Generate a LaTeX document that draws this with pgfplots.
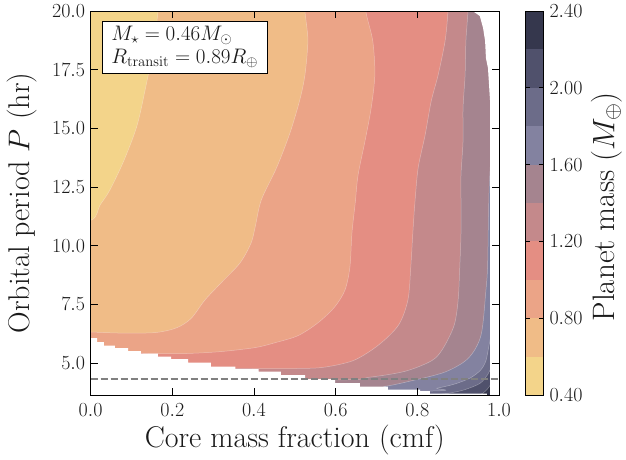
\RequirePackage{fix-cm}
\documentclass[border=0pt]{standalone}
\usepackage{pgfplots}
\pgfplotsset{compat=1.18}
\definecolor{c1}{HTML}{F3D48A}
\definecolor{c2}{HTML}{F0BC87}
\definecolor{c3}{HTML}{EBA487}
\definecolor{c4}{HTML}{E48E83}
\definecolor{c5}{HTML}{C4898B}
\definecolor{c6}{HTML}{A5848F}
\definecolor{c7}{HTML}{8382A0}
\definecolor{c8}{HTML}{6C6C89}
\definecolor{c9}{HTML}{50516C}
\definecolor{c10}{HTML}{35374D}
\definecolor{txt}{HTML}{1A1A1A}
\begin{document}
\begin{tikzpicture}
\useasboundingbox (0,0) rectangle (626pt,460pt);
\begin{axis}[
  at={(90.6pt,65pt)}, anchor=south west,
  scale only axis, width=408.4pt, height=383.9pt,
  xmin=0, xmax=1, ymin=3.64, ymax=20,
  xtick={0,0.2,0.4,0.6,0.8,1.0},
  ytick={5,7.5,10,12.5,15,17.5,20},
  tick label style={font=\fontsize{20}{24}\selectfont, text=txt,
    /pgf/number format/fixed, /pgf/number format/fixed zerofill, /pgf/number format/precision=1},
  xticklabel style={yshift=-5pt},
  yticklabel style={xshift=-2pt},
  label style={font=\fontsize{30}{36}\selectfont, text=txt},
  xlabel={Core mass fraction (cmf)},
  ylabel={Orbital period $P$ (hr)},
  xlabel style={at={(axis description cs:0.5,-0.138)}, anchor=base},
  ylabel style={at={(axis description cs:-0.150,0.5)}, anchor=base},
  tick align=inside, major tick length=7pt,
  tick style={line width=0.9pt, black},
  axis line style={line width=1pt, black},
  minor tick num=0,
  axis on top,
  every axis plot/.append style={draw=white, draw opacity=0.35, line width=0.5pt},
  band/.style={smooth, tension=0.5},
]
% base band 0.40-0.60
\addplot[fill=c1] coordinates {(-0.1,3)(1.1,3)(1.1,21)(-0.1,21)} -- cycle;
% 0.60-0.80
\addplot[band, fill=c2] coordinates {(0.165,21)(0.165,20)(0.153,18.34)(0.136,16.85)(0.114,15.14)(0.082,13.65)(0.047,12.37)(0.023,11.73)(0.001,11.09)(-0.1,10.9)(-0.1,3)(1.1,3)(1.1,21)} -- cycle;
% 0.80-1.00
\addplot[band, fill=c3] coordinates {(0.525,21)(0.525,20)(0.532,18.77)(0.525,17.3)(0.512,16.2)(0.488,14.80)(0.456,13.35)(0.418,11.95)(0.403,10.80)(0.393,10.12)(0.366,9.27)(0.319,8.41)(0.280,7.69)(0.246,6.90)(0.210,6.50)(0.158,6.30)(0.074,6.28)(0.001,6.32)(-0.1,6.32)(-0.1,3)(1.1,3)(1.1,21)} -- cycle;
% 1.00-1.20
\addplot[band, fill=c4] coordinates {(0.674,21)(0.674,20)(0.691,18.72)(0.696,17.28)(0.687,15.87)(0.672,14.47)(0.655,13.02)(0.648,11.83)(0.640,10.55)(0.635,9.10)(0.623,8.12)(0.598,7.40)(0.557,6.72)(0.508,6.17)(0.452,5.87)(0.403,5.66)(0.319,5.49)(0.238,5.41)(0.158,5.40)(-0.1,5.40)(-0.1,3)(1.1,3)(1.1,21)} -- cycle;
% 1.20-1.40
\addplot[band, fill=c5] coordinates {(0.875,21)(0.875,20)(0.868,18.73)(0.851,17.28)(0.834,16.16)(0.819,14.71)(0.802,13.31)(0.794,11.82)(0.789,10.54)(0.784,9.09)(0.777,7.69)(0.754,6.62)(0.705,5.77)(0.645,5.12)(0.574,4.83)(0.508,4.77)(0.354,4.77)(-0.1,4.77)(-0.1,3)(1.1,3)(1.1,21)} -- cycle;
% 1.40-1.60
\addplot[band, fill=c6] coordinates {(0.924,21)(0.924,20)(0.919,18.73)(0.917,17.28)(0.912,15.87)(0.912,14.47)(0.907,13.02)(0.907,11.83)(0.907,10.55)(0.904,9.10)(0.900,7.69)(0.890,6.60)(0.862,5.60)(0.835,5.10)(0.770,4.65)(0.684,4.40)(0.589,4.28)(-0.1,4.28)(-0.1,3)(1.1,3)(1.1,21)} -- cycle;
% 1.60-1.80
\addplot[band, fill=c7] coordinates {(0.990,16)(0.981,14.0)(0.976,12.5)(0.974,11.0)(0.972,9.09)(0.968,8.11)(0.956,6.19)(0.925,5.21)(0.868,4.62)(0.782,4.23)(0.721,4.01)(0.66,3.92)(-0.1,3.92)(-0.1,3)(1.1,3)(1.1,16)} -- cycle;
% 1.80-2.00
\addplot[band, fill=c8] coordinates {(0.995,7.2)(0.982,6.3)(0.975,5.7)(0.968,5.10)(0.955,4.70)(0.929,4.36)(0.890,4.10)(0.848,3.93)(0.800,3.80)(-0.1,3.75)(-0.1,3)(1.1,3)(1.1,7.2)} -- cycle;
% 2.00-2.20
\addplot[band, fill=c9] coordinates {(0.995,5.3)(0.982,4.85)(0.972,4.50)(0.953,4.13)(0.915,3.86)(0.880,3.72)(0.850,3.60)(0.850,3)(1.1,3)(1.1,5.3)} -- cycle;
% 2.20-2.40
\addplot[band, fill=c10] coordinates {(0.995,4.5)(0.982,4.15)(0.972,3.90)(0.961,3.72)(0.950,3.58)(0.950,3)(1.1,3)(1.1,4.5)} -- cycle;
% invalid region: right edge
\addplot[fill=white, draw=none] coordinates {(0.936,21)(0.936,20)(0.953,19.79)(0.961,19.28)(0.966,18.72)(0.968,18.0)(0.973,17.57)(0.978,16.2)(0.978,3)(1.1,3)(1.1,21)} -- cycle;
% invalid region: lower staircase
\addplot[fill=white, draw=none] coordinates {(-0.1,6.066)(0.0157,6.066)(0.0157,5.896)(0.0328,5.896)(0.0328,5.746)(0.0597,5.746)(0.0597,5.639)(0.0916,5.639)(0.0916,5.512)(0.1234,5.512)(0.1234,5.405)(0.165,5.405)(0.165,5.277)(0.1969,5.277)(0.1969,5.171)(0.2385,5.171)(0.2385,5.021)(0.2948,5.021)(0.2948,4.851)(0.3546,4.851)(0.3546,4.744)(0.4113,4.744)(0.4113,4.638)(0.4662,4.638)(0.4662,4.488)(0.5250,4.488)(0.5250,4.318)(0.5985,4.318)(0.5985,4.148)(0.6596,4.148)(0.6596,3.998)(0.7281,3.998)(0.7281,3.870)(0.8066,3.870)(0.8066,3.807)(0.8310,3.807)(0.8310,3.700)(0.9706,3.700)(0.9706,3)(-0.1,3)} -- cycle;
% dashed reference period
\addplot[draw=gray, draw opacity=1, line width=1.3pt, dash pattern=on 7pt off 3pt] coordinates {(0,4.32)(1,4.32)};
\node[draw=black, line width=0.8pt, fill=white, anchor=north west, align=left,
      inner xsep=9pt, inner ysep=5pt, font=\fontsize{21}{23}\selectfont, text=txt]
  at (rel axis cs:0.0279,0.974)
  {$M_\star = 0.46M_\odot$\\ $R_{\mathrm{transit}} = 0.89R_\oplus$};
\end{axis}
% colorbar
\begin{axis}[
  at={(525.5pt,65pt)}, anchor=south west,
  scale only axis, width=17.5pt, height=383.9pt,
  xmin=0, xmax=1, ymin=0.4, ymax=2.4,
  xtick=\empty,
  ytick={0.4,0.8,1.2,1.6,2.0,2.4},
  yticklabel pos=right,
  tick label style={font=\fontsize{20}{24}\selectfont, text=txt,
    /pgf/number format/fixed, /pgf/number format/fixed zerofill, /pgf/number format/precision=2},
  yticklabel style={xshift=3pt},
  tick align=inside, major tick length=4pt,
  tick style={line width=0.9pt, black},
  axis line style={line width=0.8pt, black},
  ylabel={Planet mass ($M_\oplus$)},
  label style={font=\fontsize{31}{36}\selectfont, text=txt},
  ylabel style={at={(axis description cs:5.08,0.49)}, anchor=base, rotate=0},
  axis on top,
  every axis plot/.append style={draw=none},
]
\addplot[fill=c1] coordinates {(0,0.4)(1,0.4)(1,0.6)(0,0.6)} -- cycle;
\addplot[fill=c2] coordinates {(0,0.6)(1,0.6)(1,0.8)(0,0.8)} -- cycle;
\addplot[fill=c3] coordinates {(0,0.8)(1,0.8)(1,1.0)(0,1.0)} -- cycle;
\addplot[fill=c4] coordinates {(0,1.0)(1,1.0)(1,1.2)(0,1.2)} -- cycle;
\addplot[fill=c5] coordinates {(0,1.2)(1,1.2)(1,1.4)(0,1.4)} -- cycle;
\addplot[fill=c6] coordinates {(0,1.4)(1,1.4)(1,1.6)(0,1.6)} -- cycle;
\addplot[fill=c7] coordinates {(0,1.6)(1,1.6)(1,1.8)(0,1.8)} -- cycle;
\addplot[fill=c8] coordinates {(0,1.8)(1,1.8)(1,2.0)(0,2.0)} -- cycle;
\addplot[fill=c9] coordinates {(0,2.0)(1,2.0)(1,2.2)(0,2.2)} -- cycle;
\addplot[fill=c10] coordinates {(0,2.2)(1,2.2)(1,2.4)(0,2.4)} -- cycle;
\end{axis}
\end{tikzpicture}
\end{document}
